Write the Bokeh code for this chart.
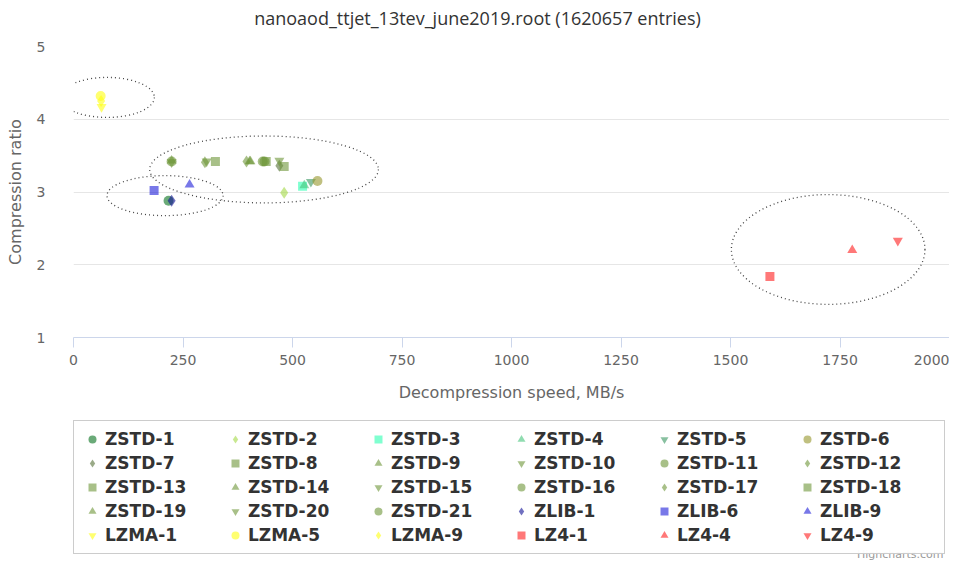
from bokeh.plotting import figure
from bokeh.layouts import column
from bokeh.models import Legend, LegendItem, Range1d, FixedTicker, Label
from bokeh.embed import file_html
from bokeh.resources import INLINE

# ---- data ----
names = ["ZSTD-1", "ZSTD-2", "ZSTD-3", "ZSTD-4", "ZSTD-5", "ZSTD-6",
         "ZSTD-7", "ZSTD-8", "ZSTD-9", "ZSTD-10", "ZSTD-11", "ZSTD-12",
         "ZSTD-13", "ZSTD-14", "ZSTD-15", "ZSTD-16", "ZSTD-17", "ZSTD-18",
         "ZSTD-19", "ZSTD-20", "ZSTD-21", "ZLIB-1", "ZLIB-6", "ZLIB-9",
         "LZMA-1", "LZMA-5", "LZMA-9", "LZ4-1", "LZ4-4", "LZ4-9"]
speeds = [217, 481, 523, 527, 542, 557,
          470, 481, 402, 470, 432, 395,
          440, 404, 304, 224, 300, 324,
          224, 224, 436, 224, 184, 265,
          64, 62, 63, 1590, 1778, 1882]
ratios = [2.88, 2.99, 3.08, 3.09, 3.14, 3.15,
          3.36, 3.35, 3.42, 3.43, 3.42, 3.42,
          3.42, 3.42, 3.42, 3.42, 3.41, 3.42,
          3.43, 3.41, 3.42, 2.88, 3.02, 3.10,
          4.17, 4.32, 4.25, 1.84, 2.20, 2.33]
markers = ["circle", "diamond", "square", "triangle", "inverted_triangle"] * 6
colors = ["#07711e", "#a3d946", "#2bffb1", "#46c57b", "#399661", "#96962b",
          "#577139", "#6e9639", "#6e9639", "#6e9639", "#6e9639", "#6e9639",
          "#6e9639", "#6e9639", "#6e9639", "#6e9639", "#6e9639", "#6e9639",
          "#6e9639", "#6e9639", "#6e9639", "#111196", "#1e1ed9", "#1e1ed9",
          "#ffff11", "#ffff11", "#ffff11", "#ff1e1e", "#ff1e1e", "#ff1e1e"]

# cluster outlines (centre x, centre y, width, height in data units)
ell_x = [77, 209, 435, 1723]
ell_y = [4.30, 2.95, 3.31, 2.21]
ell_w = [215, 265, 522, 442]
ell_h = [0.55, 0.55, 0.92, 1.51]

x_ticks = [0, 250, 500, 750, 1000, 1250, 1500, 1750, 2000]
y_ticks = [1, 2, 3, 4, 5]

title = "nanoaod_ttjet_13tev_june2019.root (1620657 entries)"


def strip(height):
    f = figure(width=949, height=height, x_range=Range1d(-1, 0), y_range=Range1d(-1, 0),
               output_backend="svg", toolbar_location=None,
               x_axis_location=None, y_axis_location=None,
               min_border=0, min_border_left=0, min_border_right=0,
               min_border_top=0, min_border_bottom=0)
    f.grid.visible = False
    f.outline_line_color = None
    f.border_fill_color = "white"
    f.title.visible = False
    return f


# ---- title strip ----
head = strip(36)
head.add_layout(Label(x=404, y=19, x_units="screen", y_units="screen", text=title,
                      text_align="center", text_baseline="middle",
                      text_font="Open Sans", text_font_size="18px",
                      text_color="#333333"))

# ---- chart ----
p = figure(width=949, height=373, x_range=Range1d(0, 2000), y_range=Range1d(1, 5),
           output_backend="svg", toolbar_location=None,
           min_border_left=73, min_border_right=0, min_border_top=10, min_border_bottom=72)
p.title.visible = False
p.outline_line_color = None
p.background_fill_color = "white"
p.border_fill_color = "white"

p.xgrid.grid_line_color = None
p.ygrid.grid_line_color = "#e6e6e6"
p.ygrid.ticker = FixedTicker(ticks=y_ticks)

p.xaxis.ticker = FixedTicker(ticks=x_ticks)
p.yaxis.ticker = FixedTicker(ticks=y_ticks)
p.xaxis.axis_line_color = "#ccd6eb"
p.xaxis.major_tick_line_color = "#ccd6eb"
p.xaxis.major_tick_out = 10
p.xaxis.major_tick_in = 0
p.xaxis.minor_tick_line_color = None
p.xaxis.major_label_standoff = 7
p.xaxis.axis_label = "Decompression speed, MB/s"
p.xaxis.axis_label_standoff = 15

p.yaxis.axis_line_color = None
p.yaxis.major_tick_line_color = None
p.yaxis.minor_tick_line_color = None
p.yaxis.major_label_standoff = 22
p.yaxis.axis_label = "Compression ratio"
p.yaxis.axis_label_standoff = 9

for ax in (p.xaxis[0], p.yaxis[0]):
    ax.major_label_text_font = "DejaVu Sans"
    ax.major_label_text_font_size = "14px"
    ax.major_label_text_color = "#666666"
    ax.axis_label_text_font = "DejaVu Sans"
    ax.axis_label_text_font_size = "16px"
    ax.axis_label_text_font_style = "normal"
    ax.axis_label_text_color = "#666666"

p.ellipse(x=ell_x, y=ell_y, width=ell_w, height=ell_h, fill_color=None,
          line_color="#444444", line_width=1.3, line_dash="1 3")

# ---- legend strip (key glyphs share the series styles) ----
lg = strip(151)

items = []
for i, name in enumerate(names):
    size = 12 if markers[i] == "diamond" else (9 if markers[i] == "square" else 10)
    style = dict(marker=markers[i], size=size, fill_color=colors[i],
                 fill_alpha=0.6, line_color=None)
    p.scatter(x=[speeds[i]], y=[ratios[i]], **style)
    key = lg.scatter(x=[speeds[i]], y=[ratios[i]], **style)
    items.append(LegendItem(label=name, renderers=[key]))

legend = Legend(items=items, ncols=6, orientation="horizontal",
                location=(0, 6), margin=0,
                glyph_width=20, glyph_height=20, label_height=20, label_width=116,
                label_standoff=3, spacing=4, padding=8,
                label_text_font="DejaVu Sans", label_text_font_style="bold",
                label_text_font_size="17px", label_text_color="#333333",
                border_line_color="#999999", border_line_width=1.5,
                background_fill_color="white")
lg.add_layout(legend, "center")

lg.add_layout(Label(x=870, y=0, x_units="screen", y_units="screen",
                    text="Highcharts.com", text_align="right", text_baseline="bottom",
                    text_font="DejaVu Sans", text_font_size="11px", text_color="#999999"))

layout = column(head, p, lg, spacing=0)
open("out.html", "w").write(file_html(layout, INLINE))
